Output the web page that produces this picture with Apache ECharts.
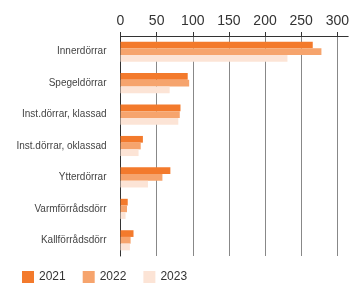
<!DOCTYPE html>
<html>
<head>
<meta charset="utf-8">
<script src="https://cdn.jsdelivr.net/npm/echarts@6/dist/echarts.min.js"></script>
<style>
    html, body {margin: 0; padding: 0; background: #fff;}
    #chart {width: 352px; height: 284px;}
</style>
</head>
<body>
<div id="chart"></div>
<script>
    // kategorier och värden per år
    var categories = ['Innerdörrar', 'Spegeldörrar', 'Inst.dörrar, klassad', 'Inst.dörrar, oklassad', 'Ytterdörrar', 'Varmförrådsdörr', 'Kallförrådsdörr']
    var years = ['2021', '2022', '2023']
    var values2021 = [266, 93, 83, 31, 69, 10, 18]
    var values2022 = [278, 95, 82, 28, 58, 9, 14]
    var values2023 = [231, 68, 80, 25, 38, 7, 13]
    var xTicks = [0, 50, 100, 150, 200, 250, 300]
    var colors = ['#f37a2c', '#f6a46d', '#fce4d6']

    var chart = echarts.init(document.getElementById('chart'))

    function bar(name, data, i) {
        return {
            name: name,
            type: 'bar',
            data: data,
            barGap: 0,
            barCategoryGap: '36%',
            itemStyle: {color: colors[i]}
        }
    }

    chart.setOption({
        animation: false,
        textStyle: {fontFamily: 'Liberation Sans'},
        legend: {
            data: years,
            left: 22,
            top: 271,
            padding: 0,
            itemWidth: 12,
            itemHeight: 12,
            itemGap: 17,
            icon: 'rect',
            textStyle: {fontSize: 12, color: '#333'}
        },
        grid: {left: 120.5, right: 2, top: 36, bottom: 28, containLabel: false},
        xAxis: {
            type: 'value',
            position: 'top',
            min: 0,
            max: 315,
            interval: 50,
            axisLine: {show: true, lineStyle: {color: '#333', width: 1}},
            axisTick: {show: true, length: 4, inside: false, customValues: xTicks, lineStyle: {color: '#333'}},
            axisLabel: {fontSize: 14, color: '#333', margin: 8, customValues: xTicks},
            splitLine: {show: true, lineStyle: {color: '#888', width: 1}}
        },
        yAxis: {
            type: 'category',
            inverse: true,
            data: categories,
            axisLine: {lineStyle: {color: '#333', width: 1}},
            axisTick: {length: 4, lineStyle: {color: '#333'}},
            axisLabel: {fontSize: 10, color: '#444', margin: 14}
        },
        series: [
            bar(years[0], values2021, 0),
            bar(years[1], values2022, 1),
            bar(years[2], values2023, 2)
        ]
    })
</script>
</body>
</html>
